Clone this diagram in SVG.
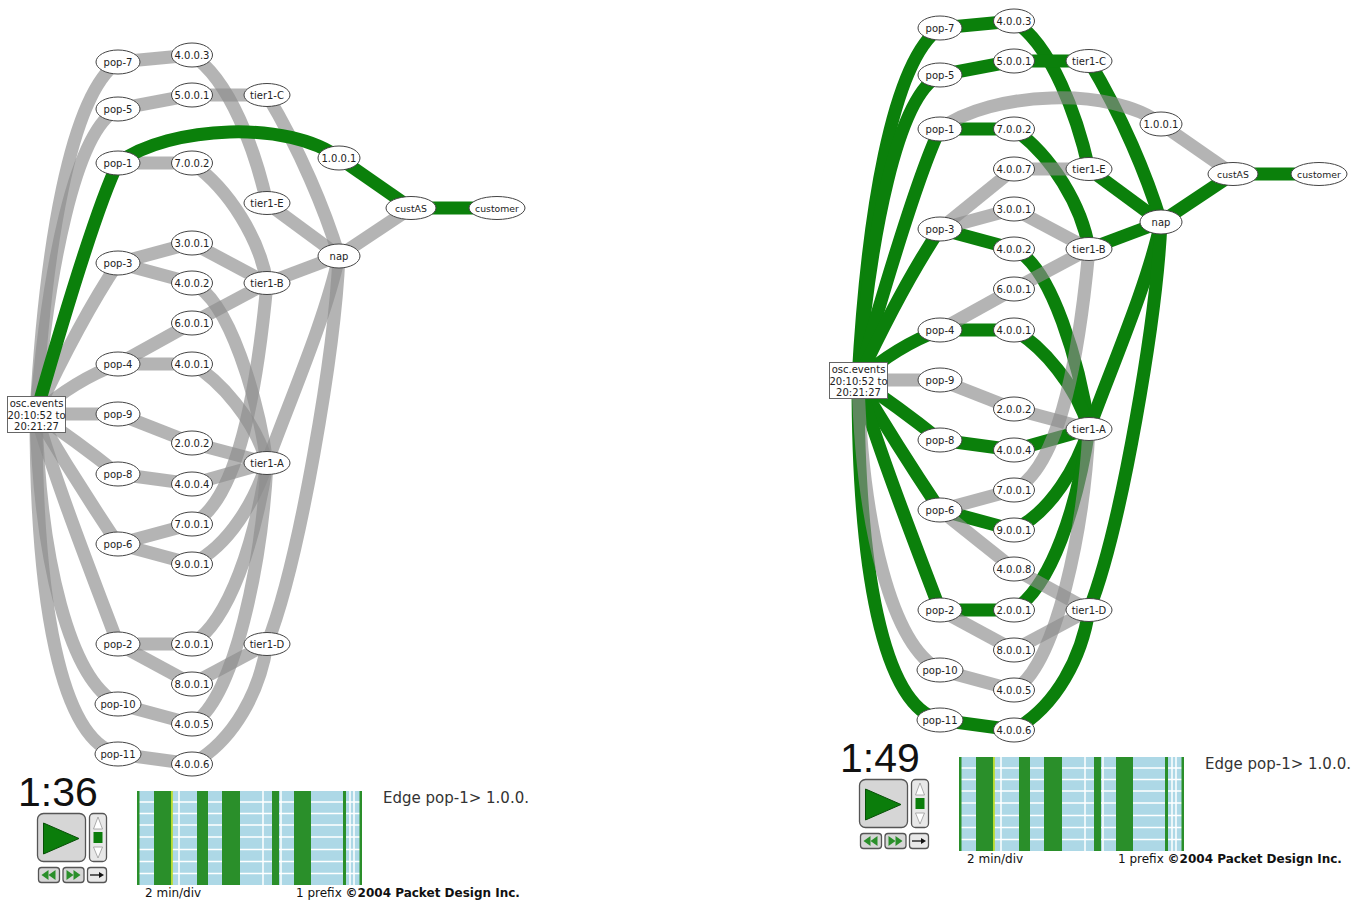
<svg xmlns="http://www.w3.org/2000/svg" xmlns:xlink="http://www.w3.org/1999/xlink" width="1367" height="903" viewBox="0 0 1367 903">
<style>
.g{fill:none;stroke:#8c8c8c;stroke-opacity:.65;stroke-width:13}
.v{fill:none;stroke:#0b800b;stroke-width:13}
.n ellipse{fill:#fff;stroke:#444;stroke-width:1}
.n text{font-family:"DejaVu Sans",sans-serif;font-size:10px;fill:#222;text-anchor:middle}
.n text.s{font-size:9.3px}
.osc rect{fill:#fff;stroke:#666;stroke-width:1}
.osc text{font-family:"DejaVu Sans",sans-serif;font-size:10px;fill:#222;text-anchor:middle}
.time{font-family:"Liberation Sans",Arial,sans-serif;font-size:41px;fill:#111}
.edge{font-family:"DejaVu Sans",sans-serif;font-size:15px;fill:#333}
.foot{font-family:"DejaVu Sans",sans-serif;font-size:12px;fill:#111}
.foot tspan.b{font-weight:bold}
.btn{fill:#d6d6d6;stroke:#555;stroke-width:1.3}
.gtri{fill:#0b7d0b;stroke:#064f06;stroke-width:1}
</style>
<defs>
<g id="chart">
<rect x="137" y="791" width="225" height="94" fill="#add8e6"/>
<path d="M137,802H362M137,813.5H362M137,825H362M137,837H362M137,849.5H362M137,861.5H362M137,873.5H362M179,791V885M263,791V885M281,791V885M350,791V885M354,791V885" stroke="#fff" stroke-width="1.5" fill="none"/>
<g fill="#2a8f2a">
<rect x="137" y="791" width="2.5" height="94"/>
<rect x="154" y="791" width="17" height="94"/>
<rect x="197" y="791" width="11" height="94"/>
<rect x="222" y="791" width="18" height="94"/>
<rect x="272" y="791" width="7" height="94"/>
<rect x="294" y="791" width="17" height="94"/>
<rect x="343" y="791" width="3" height="94"/>
<rect x="359.5" y="791" width="2.5" height="94"/>
</g>
<rect x="171" y="791" width="1.8" height="94" fill="#b9dc2c"/>
</g>
<g id="buttons">
<rect class="btn" x="37.5" y="813.5" width="48" height="48" rx="6"/>
<polygon class="gtri" points="43.5,823 43.5,854 79,838.5"/>
<rect x="89.5" y="813.5" width="17" height="48" rx="4" fill="#e8e8e8" stroke="#555" stroke-width="1.3"/>
<polygon points="98,817 93.5,829 102.5,829" fill="#fff" stroke="#999" stroke-width="0.8"/>
<rect x="93.5" y="832" width="9" height="11" fill="#0b7d0b"/>
<polygon points="93.5,847 102.5,847 98,858" fill="#fff" stroke="#999" stroke-width="0.8"/>
<rect class="btn" x="38.5" y="867.5" width="21" height="15" rx="3"/>
<polygon fill="#2a8f2a" points="41.5,875 48.5,870 48.5,880"/>
<polygon fill="#2a8f2a" points="48.5,875 55.5,870 55.5,880"/>
<rect class="btn" x="63" y="867.5" width="21" height="15" rx="3"/>
<polygon fill="#2a8f2a" points="73.5,875 66.5,870 66.5,880"/>
<polygon fill="#2a8f2a" points="80.5,875 73.5,870 73.5,880"/>
<rect x="87.5" y="867.5" width="19" height="15" rx="3" fill="#e8e8e8" stroke="#555" stroke-width="1.3"/>
<path d="M90,875H100" stroke="#111" stroke-width="1.3"/>
<polygon fill="#111" points="104,875 99,872 99,878"/>
</g>
</defs>

<!-- LEFT PANEL -->
<g id="left">
<g id="left-connectors">
<path class="g" d="M36,414 C45,250 70,95 118,62"/>
<path class="g" d="M36,414 C48,270 75,130 118,109"/>
<path class="g" d="M36,414 Q80,320 118,263"/>
<path class="g" d="M36,414 Q75,380 118,364"/>
<path class="g" d="M36,414 L118,414"/>
<path class="g" d="M36,414 Q75,440 118,474"/>
<path class="g" d="M36,414 Q75,480 118,544"/>
<path class="g" d="M36,414 C55,480 90,570 118,644"/>
<path class="g" d="M36,414 C40,560 70,680 118,704"/>
<path class="g" d="M36,414 C36,600 60,740 118,754"/>
<path class="g" d="M118,62 L192,55"/>
<path class="g" d="M192,55 C230,80 255,150 267,203"/>
<path class="g" d="M118,109 L192,95"/>
<path class="g" d="M192,95 L267,95"/>
<path class="g" d="M267,95 C300,150 325,210 339,256"/>
<path class="g" d="M118,163 L192,163"/>
<path class="g" d="M192,163 C230,190 260,240 267,283"/>
<path class="g" d="M267,203 L339,256"/>
<path class="g" d="M339,256 L411,208"/>
<path class="g" d="M118,263 L192,243"/>
<path class="g" d="M118,263 L192,283"/>
<path class="g" d="M192,243 L267,283"/>
<path class="g" d="M192,283 C230,300 258,400 267,463"/>
<path class="g" d="M267,283 L339,256"/>
<path class="g" d="M118,364 L192,323"/>
<path class="g" d="M192,323 L267,283"/>
<path class="g" d="M118,364 L192,364"/>
<path class="g" d="M192,364 C220,380 255,420 267,463"/>
<path class="g" d="M118,414 L192,443"/>
<path class="g" d="M192,443 L267,463"/>
<path class="g" d="M118,474 L192,484"/>
<path class="g" d="M192,484 L267,463"/>
<path class="g" d="M118,544 L192,524"/>
<path class="g" d="M192,524 C240,500 258,380 267,283"/>
<path class="g" d="M118,544 L192,564"/>
<path class="g" d="M192,564 C230,545 255,500 267,463"/>
<path class="g" d="M118,644 L192,644"/>
<path class="g" d="M118,644 L192,684"/>
<path class="g" d="M192,644 C230,620 255,540 267,463"/>
<path class="g" d="M192,684 L267,644"/>
<path class="g" d="M118,704 L192,724"/>
<path class="g" d="M192,724 C235,700 262,560 267,463"/>
<path class="g" d="M118,754 L192,764"/>
<path class="g" d="M192,764 C235,740 260,690 267,644"/>
<path class="g" d="M267,463 C290,400 325,320 339,256"/>
<path class="g" d="M267,644 C300,560 335,350 339,256"/>
<path class="v" d="M36,414 C60,330 95,210 118,163"/>
<path class="v" d="M118,163 C170,125 290,120 339,158"/>
<path class="v" d="M339,158 L411,208"/>
<path class="v" d="M411,208 L497,208"/>
</g>
<g id="L-osc" class="osc"><rect x="7.5" y="396.5" width="58" height="36"/><text x="36.5" y="406.5">osc.events</text><text x="36.5" y="418.5">20:10:52 to</text><text x="36.5" y="430">20:21:27</text></g>
<g id="L-pop-7" class="n"><ellipse cx="118" cy="62" rx="22" ry="12"/><text x="118" y="65.5">pop-7</text></g>
<g id="L-pop-5" class="n"><ellipse cx="118" cy="109" rx="22" ry="12"/><text x="118" y="112.5">pop-5</text></g>
<g id="L-pop-1" class="n"><ellipse cx="118" cy="163" rx="22" ry="12"/><text x="118" y="166.5">pop-1</text></g>
<g id="L-pop-3" class="n"><ellipse cx="118" cy="263" rx="22" ry="12"/><text x="118" y="266.5">pop-3</text></g>
<g id="L-pop-4" class="n"><ellipse cx="118" cy="364" rx="22" ry="12"/><text x="118" y="367.5">pop-4</text></g>
<g id="L-pop-9" class="n"><ellipse cx="118" cy="414" rx="22" ry="12"/><text x="118" y="417.5">pop-9</text></g>
<g id="L-pop-8" class="n"><ellipse cx="118" cy="474" rx="22" ry="12"/><text x="118" y="477.5">pop-8</text></g>
<g id="L-pop-6" class="n"><ellipse cx="118" cy="544" rx="22" ry="12"/><text x="118" y="547.5">pop-6</text></g>
<g id="L-pop-2" class="n"><ellipse cx="118" cy="644" rx="22" ry="12"/><text x="118" y="647.5">pop-2</text></g>
<g id="L-pop-10" class="n"><ellipse cx="118" cy="704" rx="23" ry="12"/><text x="118" y="707.5">pop-10</text></g>
<g id="L-pop-11" class="n"><ellipse cx="118" cy="754" rx="23" ry="12"/><text x="118" y="757.5">pop-11</text></g>
<g id="L-4.0.0.3" class="n"><ellipse cx="192" cy="55" rx="20.5" ry="12"/><text x="192" y="58.5">4.0.0.3</text></g>
<g id="L-5.0.0.1" class="n"><ellipse cx="192" cy="95" rx="20.5" ry="12"/><text x="192" y="98.5">5.0.0.1</text></g>
<g id="L-7.0.0.2" class="n"><ellipse cx="192" cy="163" rx="20.5" ry="12"/><text x="192" y="166.5">7.0.0.2</text></g>
<g id="L-3.0.0.1" class="n"><ellipse cx="192" cy="243" rx="20.5" ry="12"/><text x="192" y="246.5">3.0.0.1</text></g>
<g id="L-4.0.0.2" class="n"><ellipse cx="192" cy="283" rx="20.5" ry="12"/><text x="192" y="286.5">4.0.0.2</text></g>
<g id="L-6.0.0.1" class="n"><ellipse cx="192" cy="323" rx="20.5" ry="12"/><text x="192" y="326.5">6.0.0.1</text></g>
<g id="L-4.0.0.1" class="n"><ellipse cx="192" cy="364" rx="20.5" ry="12"/><text x="192" y="367.5">4.0.0.1</text></g>
<g id="L-2.0.0.2" class="n"><ellipse cx="192" cy="443" rx="20.5" ry="12"/><text x="192" y="446.5">2.0.0.2</text></g>
<g id="L-4.0.0.4" class="n"><ellipse cx="192" cy="484" rx="20.5" ry="12"/><text x="192" y="487.5">4.0.0.4</text></g>
<g id="L-7.0.0.1" class="n"><ellipse cx="192" cy="524" rx="20.5" ry="12"/><text x="192" y="527.5">7.0.0.1</text></g>
<g id="L-9.0.0.1" class="n"><ellipse cx="192" cy="564" rx="20.5" ry="12"/><text x="192" y="567.5">9.0.0.1</text></g>
<g id="L-2.0.0.1" class="n"><ellipse cx="192" cy="644" rx="20.5" ry="12"/><text x="192" y="647.5">2.0.0.1</text></g>
<g id="L-8.0.0.1" class="n"><ellipse cx="192" cy="684" rx="20.5" ry="12"/><text x="192" y="687.5">8.0.0.1</text></g>
<g id="L-4.0.0.5" class="n"><ellipse cx="192" cy="724" rx="20.5" ry="12"/><text x="192" y="727.5">4.0.0.5</text></g>
<g id="L-4.0.0.6" class="n"><ellipse cx="192" cy="764" rx="20.5" ry="12"/><text x="192" y="767.5">4.0.0.6</text></g>
<g id="L-tier1-C" class="n"><ellipse cx="267" cy="95" rx="23" ry="11.5"/><text x="267" y="98.5">tier1-C</text></g>
<g id="L-tier1-E" class="n"><ellipse cx="267" cy="203" rx="23" ry="11.5"/><text x="267" y="206.5">tier1-E</text></g>
<g id="L-tier1-B" class="n"><ellipse cx="267" cy="283" rx="23" ry="11.5"/><text x="267" y="286.5">tier1-B</text></g>
<g id="L-tier1-A" class="n"><ellipse cx="267" cy="463" rx="23" ry="11.5"/><text x="267" y="466.5">tier1-A</text></g>
<g id="L-tier1-D" class="n"><ellipse cx="267" cy="644" rx="23" ry="11.5"/><text x="267" y="647.5">tier1-D</text></g>
<g id="L-1.0.0.1" class="n"><ellipse cx="339" cy="158" rx="21" ry="12"/><text x="339" y="161.5">1.0.0.1</text></g>
<g id="L-nap" class="n"><ellipse cx="339" cy="256" rx="21" ry="12"/><text x="339" y="259.5">nap</text></g>
<g id="L-custAS" class="n"><ellipse cx="411" cy="208" rx="25" ry="11.5"/><text class="s" x="411" y="211.5">custAS</text></g>
<g id="L-customer" class="n"><ellipse cx="497" cy="208" rx="28" ry="11.5"/><text class="s" x="497" y="211.5">customer</text></g>
</g>

<g id="left-controls">
<text class="time" x="18" y="806">1:36</text>
<use xlink:href="#buttons" href="#buttons"/>
<use xlink:href="#chart" href="#chart"/>
<text class="edge" x="383" y="803">Edge pop-1&gt; 1.0.0.</text>
<text class="foot" x="145" y="897">2 min/div</text>
<text class="foot" x="296" y="897">1 prefix <tspan class="b">©2004 Packet Design Inc.</tspan></text>
</g>

<!-- RIGHT PANEL -->
<g id="right" transform="translate(822,-34)">
<g id="right-connectors">
<path class="v" d="M36,414 C45,250 70,95 118,62"/>
<path class="v" d="M36,414 C48,270 75,130 118,109"/>
<path class="v" d="M36,414 C60,330 95,210 118,163"/>
<path class="v" d="M36,414 Q80,320 118,263"/>
<path class="v" d="M36,414 Q75,380 118,364"/>
<path class="v" d="M36,414 Q75,440 118,474"/>
<path class="v" d="M36,414 Q75,480 118,544"/>
<path class="v" d="M36,414 C55,480 90,570 118,644"/>
<path class="v" d="M36,414 C36,600 60,740 118,754"/>
<path class="v" d="M118,62 L192,55"/>
<path class="v" d="M192,55 C230,80 255,150 267,203"/>
<path class="v" d="M118,109 L192,95"/>
<path class="v" d="M192,95 L267,95"/>
<path class="v" d="M267,95 C300,150 325,210 339,256"/>
<path class="v" d="M118,163 L192,163"/>
<path class="v" d="M411,208 L497,208"/>
<path class="v" d="M192,163 C230,190 260,240 267,283"/>
<path class="v" d="M267,203 L339,256"/>
<path class="v" d="M339,256 L411,208"/>
<path class="v" d="M118,263 L192,283"/>
<path class="v" d="M192,283 C230,300 258,400 267,463"/>
<path class="v" d="M267,283 L339,256"/>
<path class="v" d="M118,364 L192,364"/>
<path class="v" d="M192,364 C220,380 255,420 267,463"/>
<path class="v" d="M118,474 L192,484"/>
<path class="v" d="M192,484 L267,463"/>
<path class="v" d="M118,544 L192,564"/>
<path class="v" d="M192,564 C230,545 255,500 267,463"/>
<path class="v" d="M118,644 L192,644"/>
<path class="v" d="M192,644 C230,620 255,540 267,463"/>
<path class="v" d="M118,754 L192,764"/>
<path class="v" d="M192,764 C235,740 260,690 267,644"/>
<path class="v" d="M267,463 C290,400 325,320 339,256"/>
<path class="v" d="M267,644 C300,560 335,350 339,256"/>
<path class="g" d="M36,414 L118,414"/>
<path class="g" d="M36,414 C40,560 70,680 118,704"/>
<path class="g" d="M118,163 C170,125 290,120 339,158"/>
<path class="g" d="M339,158 L411,208"/>
<path class="g" d="M118,263 L192,203"/>
<path class="g" d="M192,203 L267,203"/>
<path class="g" d="M118,263 L192,243"/>
<path class="g" d="M192,243 L267,283"/>
<path class="g" d="M118,364 L192,323"/>
<path class="g" d="M192,323 L267,283"/>
<path class="g" d="M118,414 L192,443"/>
<path class="g" d="M192,443 L267,463"/>
<path class="g" d="M118,544 L192,524"/>
<path class="g" d="M192,524 C240,500 258,380 267,283"/>
<path class="g" d="M118,544 L192,603"/>
<path class="g" d="M192,603 L267,644"/>
<path class="g" d="M118,644 L192,684"/>
<path class="g" d="M192,684 L267,644"/>
<path class="g" d="M118,704 L192,724"/>
<path class="g" d="M192,724 C235,700 262,560 267,463"/>
</g>
<g id="R-osc" class="osc"><rect x="7.5" y="396.5" width="58" height="36"/><text x="36.5" y="406.5">osc.events</text><text x="36.5" y="418.5">20:10:52 to</text><text x="36.5" y="430">20:21:27</text></g>
<g id="R-pop-7" class="n"><ellipse cx="118" cy="62" rx="22" ry="12"/><text x="118" y="65.5">pop-7</text></g>
<g id="R-pop-5" class="n"><ellipse cx="118" cy="109" rx="22" ry="12"/><text x="118" y="112.5">pop-5</text></g>
<g id="R-pop-1" class="n"><ellipse cx="118" cy="163" rx="22" ry="12"/><text x="118" y="166.5">pop-1</text></g>
<g id="R-pop-3" class="n"><ellipse cx="118" cy="263" rx="22" ry="12"/><text x="118" y="266.5">pop-3</text></g>
<g id="R-pop-4" class="n"><ellipse cx="118" cy="364" rx="22" ry="12"/><text x="118" y="367.5">pop-4</text></g>
<g id="R-pop-9" class="n"><ellipse cx="118" cy="414" rx="22" ry="12"/><text x="118" y="417.5">pop-9</text></g>
<g id="R-pop-8" class="n"><ellipse cx="118" cy="474" rx="22" ry="12"/><text x="118" y="477.5">pop-8</text></g>
<g id="R-pop-6" class="n"><ellipse cx="118" cy="544" rx="22" ry="12"/><text x="118" y="547.5">pop-6</text></g>
<g id="R-pop-2" class="n"><ellipse cx="118" cy="644" rx="22" ry="12"/><text x="118" y="647.5">pop-2</text></g>
<g id="R-pop-10" class="n"><ellipse cx="118" cy="704" rx="23" ry="12"/><text x="118" y="707.5">pop-10</text></g>
<g id="R-pop-11" class="n"><ellipse cx="118" cy="754" rx="23" ry="12"/><text x="118" y="757.5">pop-11</text></g>
<g id="R-4.0.0.3" class="n"><ellipse cx="192" cy="55" rx="20.5" ry="12"/><text x="192" y="58.5">4.0.0.3</text></g>
<g id="R-5.0.0.1" class="n"><ellipse cx="192" cy="95" rx="20.5" ry="12"/><text x="192" y="98.5">5.0.0.1</text></g>
<g id="R-7.0.0.2" class="n"><ellipse cx="192" cy="163" rx="20.5" ry="12"/><text x="192" y="166.5">7.0.0.2</text></g>
<g id="R-4.0.0.7" class="n"><ellipse cx="192" cy="203" rx="20.5" ry="12"/><text x="192" y="206.5">4.0.0.7</text></g>
<g id="R-3.0.0.1" class="n"><ellipse cx="192" cy="243" rx="20.5" ry="12"/><text x="192" y="246.5">3.0.0.1</text></g>
<g id="R-4.0.0.2" class="n"><ellipse cx="192" cy="283" rx="20.5" ry="12"/><text x="192" y="286.5">4.0.0.2</text></g>
<g id="R-6.0.0.1" class="n"><ellipse cx="192" cy="323" rx="20.5" ry="12"/><text x="192" y="326.5">6.0.0.1</text></g>
<g id="R-4.0.0.1" class="n"><ellipse cx="192" cy="364" rx="20.5" ry="12"/><text x="192" y="367.5">4.0.0.1</text></g>
<g id="R-2.0.0.2" class="n"><ellipse cx="192" cy="443" rx="20.5" ry="12"/><text x="192" y="446.5">2.0.0.2</text></g>
<g id="R-4.0.0.4" class="n"><ellipse cx="192" cy="484" rx="20.5" ry="12"/><text x="192" y="487.5">4.0.0.4</text></g>
<g id="R-7.0.0.1" class="n"><ellipse cx="192" cy="524" rx="20.5" ry="12"/><text x="192" y="527.5">7.0.0.1</text></g>
<g id="R-9.0.0.1" class="n"><ellipse cx="192" cy="564" rx="20.5" ry="12"/><text x="192" y="567.5">9.0.0.1</text></g>
<g id="R-4.0.0.8" class="n"><ellipse cx="192" cy="603" rx="20.5" ry="12"/><text x="192" y="606.5">4.0.0.8</text></g>
<g id="R-2.0.0.1" class="n"><ellipse cx="192" cy="644" rx="20.5" ry="12"/><text x="192" y="647.5">2.0.0.1</text></g>
<g id="R-8.0.0.1" class="n"><ellipse cx="192" cy="684" rx="20.5" ry="12"/><text x="192" y="687.5">8.0.0.1</text></g>
<g id="R-4.0.0.5" class="n"><ellipse cx="192" cy="724" rx="20.5" ry="12"/><text x="192" y="727.5">4.0.0.5</text></g>
<g id="R-4.0.0.6" class="n"><ellipse cx="192" cy="764" rx="20.5" ry="12"/><text x="192" y="767.5">4.0.0.6</text></g>
<g id="R-tier1-C" class="n"><ellipse cx="267" cy="95" rx="23" ry="11.5"/><text x="267" y="98.5">tier1-C</text></g>
<g id="R-tier1-E" class="n"><ellipse cx="267" cy="203" rx="23" ry="11.5"/><text x="267" y="206.5">tier1-E</text></g>
<g id="R-tier1-B" class="n"><ellipse cx="267" cy="283" rx="23" ry="11.5"/><text x="267" y="286.5">tier1-B</text></g>
<g id="R-tier1-A" class="n"><ellipse cx="267" cy="463" rx="23" ry="11.5"/><text x="267" y="466.5">tier1-A</text></g>
<g id="R-tier1-D" class="n"><ellipse cx="267" cy="644" rx="23" ry="11.5"/><text x="267" y="647.5">tier1-D</text></g>
<g id="R-1.0.0.1" class="n"><ellipse cx="339" cy="158" rx="21" ry="12"/><text x="339" y="161.5">1.0.0.1</text></g>
<g id="R-nap" class="n"><ellipse cx="339" cy="256" rx="21" ry="12"/><text x="339" y="259.5">nap</text></g>
<g id="R-custAS" class="n"><ellipse cx="411" cy="208" rx="25" ry="11.5"/><text class="s" x="411" y="211.5">custAS</text></g>
<g id="R-customer" class="n"><ellipse cx="497" cy="208" rx="28" ry="11.5"/><text class="s" x="497" y="211.5">customer</text></g>

<g id="right-controls">
<text class="time" x="18" y="806">1:49</text>
<use xlink:href="#buttons" href="#buttons"/>
<use xlink:href="#chart" href="#chart"/>
<text class="edge" x="383" y="803">Edge pop-1&gt; 1.0.0.</text>
<text class="foot" x="145" y="897">2 min/div</text>
<text class="foot" x="296" y="897">1 prefix <tspan class="b">©2004 Packet Design Inc.</tspan></text>
</g>
</g>
</svg>
